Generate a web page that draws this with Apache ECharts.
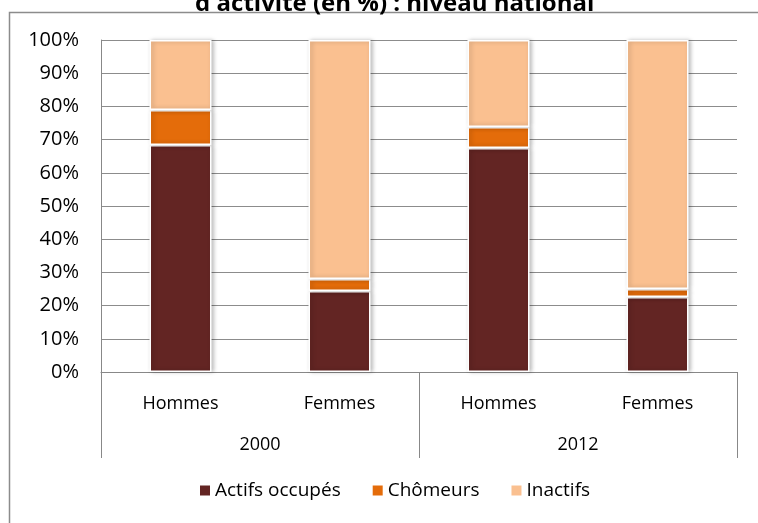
<!DOCTYPE html>
<html>
<head>
<meta charset="utf-8">
<script src="https://cdn.jsdelivr.net/npm/echarts@6/dist/echarts.min.js"></script>
<style>
  html, body { margin: 0; padding: 0; background: #fff; }
  #chart { width: 758px; height: 523px; }
</style>
</head>
<body>
<div id="chart"></div>
<script>
const categories = ['Hommes', 'Femmes', 'Hommes', 'Femmes'];
const years = ['2000', '2012'];
const actifsOccupes = [68.4, 24.4, 67.5, 22.6];
const chomeurs = [10.5, 3.6, 6.3, 2.4];
const inactifs = [21.1, 72.0, 26.2, 75.0];

const FONT = '"Open Sans", "Noto Sans", sans-serif';

const chart = echarts.init(document.getElementById('chart'));

function barSeries(name, data, color) {
    return {
        name: name,
        type: 'bar',
        stack: 'total',
        xAxisIndex: 0,
        barWidth: '39%',
        data: data,
        itemStyle: {
            color: color,
            borderColor: '#fff',
            borderWidth: 1.5,
            shadowColor: 'rgba(0,0,0,0.25)',
            shadowBlur: 4,
            shadowOffsetX: 2
        }
    };
}

chart.setOption({
    animation: false,
    title: {
        text: "d'activité (en %) : niveau national",
        left: 190,
        top: -13,
        textStyle: { fontFamily: FONT, fontSize: 24, fontWeight: 'bold', color: '#000' }
    },
    graphic: [{
        type: 'rect',
        shape: { x: 9.5, y: 12.5, width: 760, height: 530 },
        style: { fill: null, stroke: '#8c8c8c', lineWidth: 1.5 },
        z: -1
    }],
    grid: { left: 101, right: 21, top: 40, bottom: 151 },
    legend: {
        bottom: 18,
        left: 193,
        itemWidth: 12,
        itemHeight: 12,
        itemGap: 30,
        icon: 'rect',
        textStyle: { fontFamily: FONT, fontSize: 19, color: '#000', padding: [0, 0, 0, -1] }
    },
    xAxis: [{
        type: 'category',
        data: categories,
        position: 'bottom',
        axisLine: { lineStyle: { color: '#888' } },
        axisTick: { show: false },
        axisLabel: { fontFamily: FONT, fontSize: 18, color: '#000', margin: 23 }
    }, {
        type: 'category',
        data: years,
        position: 'bottom',
        axisLine: { show: false },
        axisTick: { show: true, length: 86, lineStyle: { color: '#888' } },
        axisLabel: { fontFamily: FONT, fontSize: 18, color: '#000', margin: 64 }
    }],
    yAxis: {
        type: 'value',
        min: 0,
        max: 100,
        interval: 10,
        axisLine: { show: true, lineStyle: { color: '#888' } },
        axisTick: { show: false },
        splitLine: { lineStyle: { color: '#8c8c8c' } },
        axisLabel: {
            fontFamily: FONT, fontSize: 20, color: '#000', margin: 22,
            formatter: function (v) { return v + '%'; }
        }
    },
    series: [
        barSeries('Actifs occupés', actifsOccupes, '#632523'),
        barSeries('Chômeurs', chomeurs, '#E46C0A'),
        barSeries('Inactifs', inactifs, '#FAC090')
    ]
});
</script>
</body>
</html>
